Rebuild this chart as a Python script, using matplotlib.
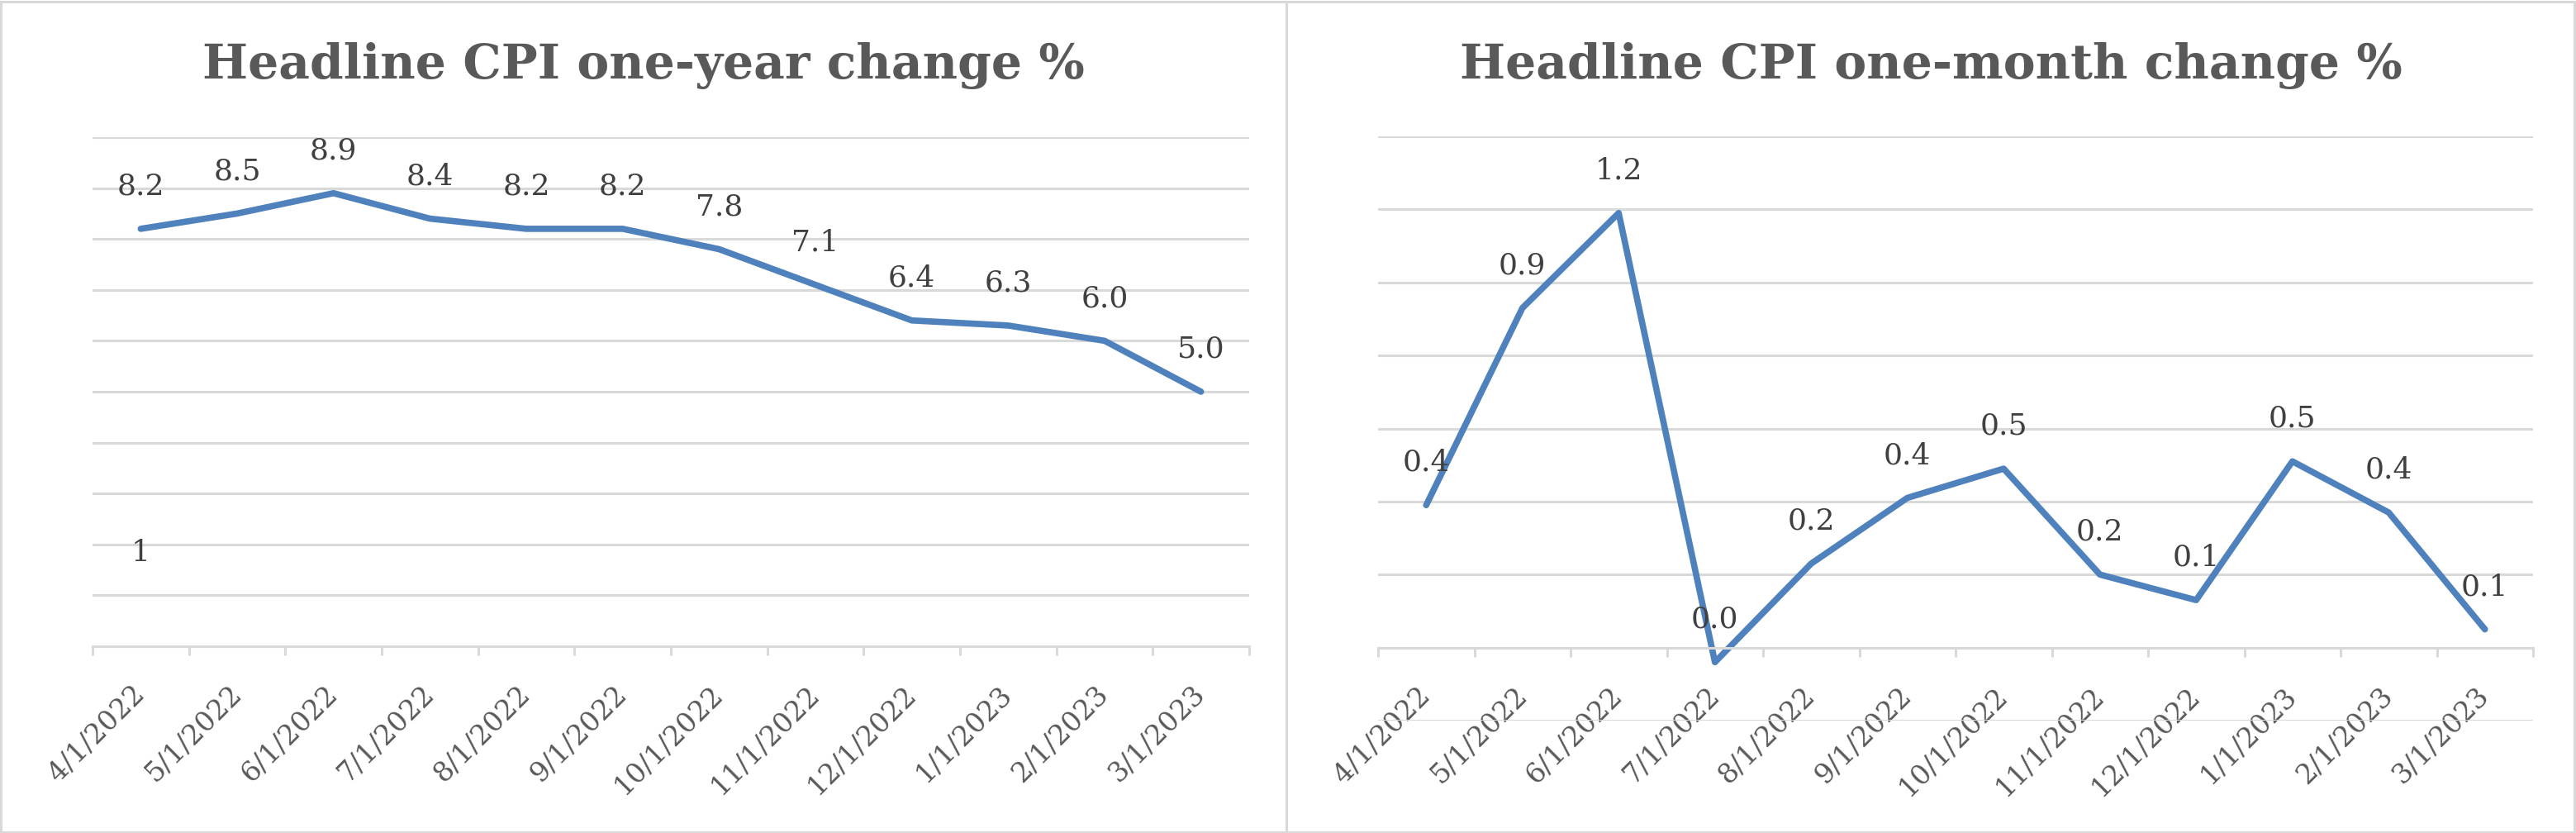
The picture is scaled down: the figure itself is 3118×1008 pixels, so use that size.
import matplotlib.pyplot as plt
from matplotlib.patches import Rectangle

plt.rcParams['font.family'] = ['DejaVu Serif']

dates = ['4/1/2022', '5/1/2022', '6/1/2022', '7/1/2022', '8/1/2022', '9/1/2022',
         '10/1/2022', '11/1/2022', '12/1/2022', '1/1/2023', '2/1/2023', '3/1/2023']

year_change = [8.2, 8.5, 8.9, 8.4, 8.2, 8.2, 7.8, 7.1, 6.4, 6.3, 6.0, 5.0]
year_labels = ['8.2', '8.5', '8.9', '8.4', '8.2', '8.2', '7.8', '7.1', '6.4', '6.3', '6.0', '5.0']
# stray label from a hidden helper series on the first date
hidden_value = [1]

month_change = [0.39, 0.93, 1.19, -0.04, 0.23, 0.41, 0.49, 0.20, 0.13, 0.51, 0.37, 0.05]
month_labels = ['0.4', '0.9', '1.2', '0.0', '0.2', '0.4', '0.5', '0.2', '0.1', '0.5', '0.4', '0.1']

year_ticks = [0, 1, 2, 3, 4, 5, 6, 7, 8, 9, 10]
month_ticks = [-0.2, 0, 0.2, 0.4, 0.6, 0.8, 1.0, 1.2, 1.4]

W, H = 3118, 1008
LINE = '#4F81BD'
GRID = '#D9D9D9'
TXT = '#595959'
LBL = '#404040'

fig = plt.figure(figsize=(W / 100, H / 100), dpi=100)

# panel borders
for x0, x1 in [(1, 1557), (1557, 3116)]:
    fig.patches.append(Rectangle((x0 / W, 1 / H), (x1 - x0) / W, (H - 3) / H,
                                 transform=fig.transFigure, fill=False,
                                 edgecolor=GRID, linewidth=2.2))


def style_axes(ax, yticks):
    x = range(len(dates))
    ax.set_xlim(-0.5, len(dates) - 0.5)
    ax.set_ylim(yticks[0], yticks[-1])
    ax.set_yticks(yticks)
    ax.grid(axis='y', color=GRID, linewidth=2.2)
    ax.set_axisbelow(True)
    ax.tick_params(axis='y', left=False, labelleft=False)
    for s in ['top', 'right', 'left']:
        ax.spines[s].set_visible(False)
    ax.spines['bottom'].set_color(GRID)
    ax.spines['bottom'].set_linewidth(2.2)
    ax.set_xticks([i - 0.5 for i in range(len(dates) + 1)])
    ax.set_xticklabels([])
    ax.tick_params(axis='x', which='major', direction='out', length=8,
                   width=2.2, color=GRID)
    ax.set_xticks(list(x), minor=True)
    ax.set_xticklabels(dates, minor=True, rotation=45, ha='right', va='center',
                       rotation_mode='anchor', fontsize=24, color=TXT)
    ax.tick_params(axis='x', which='minor', length=0, pad=38)


def add_labels(ax, values, labels):
    for i, (v, t) in enumerate(zip(values, labels)):
        ax.annotate(t, (i, v), xytext=(0, 37), textcoords='offset points',
                    ha='center', va='center', fontsize=26, color=LBL,
                    annotation_clip=False)


# left chart
ax1 = fig.add_axes([112 / W, (H - 782) / H, 1400 / W, (782 - 166) / H])
style_axes(ax1, year_ticks)
ax1.plot(range(len(dates)), year_change, color=LINE, linewidth=5.5,
         solid_capstyle='round', solid_joinstyle='round')
add_labels(ax1, year_change, year_labels)
add_labels(ax1, hidden_value, ['1'])

# right chart (category axis crosses at zero)
ax2 = fig.add_axes([1668 / W, (H - 872) / H, 1398 / W, (872 - 165) / H])
ax2.spines['bottom'].set_position(('data', 0))
style_axes(ax2, month_ticks)
ax2.plot(range(len(dates)), month_change, color=LINE, linewidth=5.5,
         solid_capstyle='round', solid_joinstyle='round', clip_on=False)
add_labels(ax2, month_change, month_labels)

fig.text(779 / W, 1 - 95 / H, 'Headline CPI one-year change %', ha='center',
         va='baseline', fontsize=42, fontweight='bold', color=TXT)
fig.text(2337 / W, 1 - 95 / H, 'Headline CPI one-month change %', ha='center',
         va='baseline', fontsize=42, fontweight='bold', color=TXT)

fig.savefig('out.png', dpi=100)
